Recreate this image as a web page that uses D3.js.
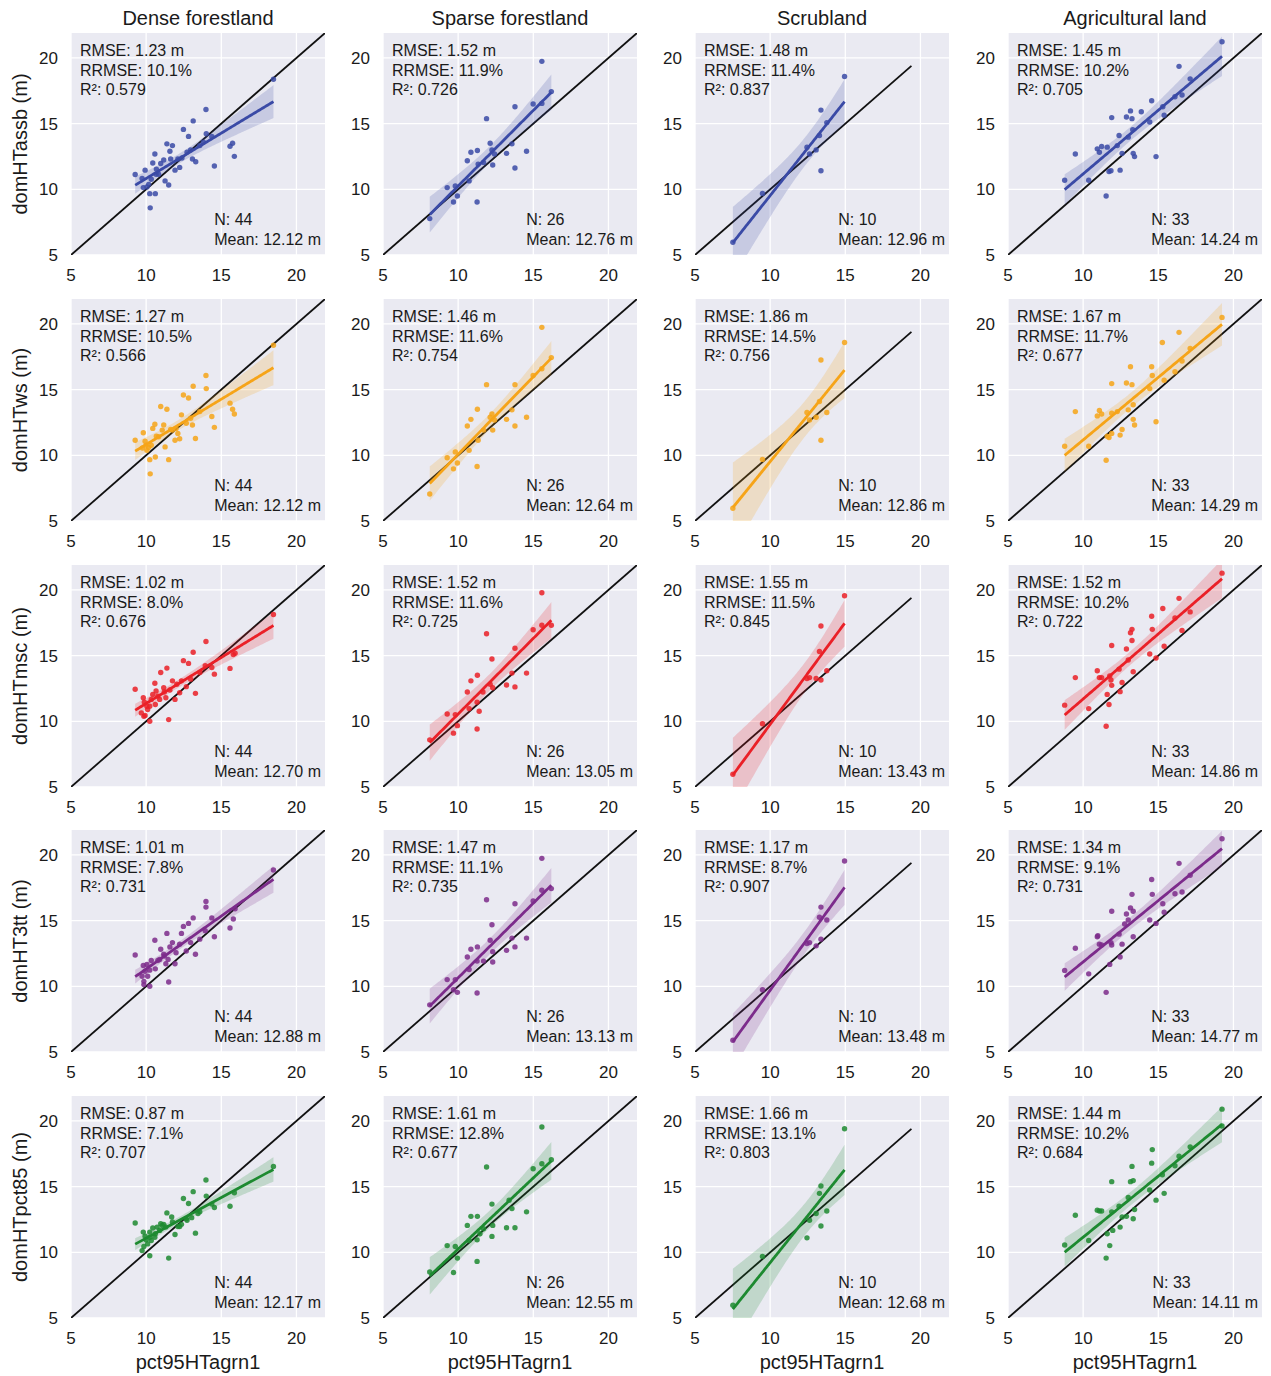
<!DOCTYPE html>
<html lang="en">
<head>
<meta charset="UTF-8">
<title>Dominant height vs pct95HTagrn1</title>
<script src="https://d3js.org/d3.v7.min.js"></script>
<style>
  body { margin: 0; background: #fff; }
  svg text { font-family: "Liberation Sans", Arial, sans-serif; fill: #1a1a1a; }
</style>
</head>
<body>
<div id="chart"></div>
<script>
const landCovers = ["Dense forestland", "Sparse forestland", "Scrubland", "Agricultural land"];
const metrics = ["domHTassb", "domHTws", "domHTmsc", "domHT3tt", "domHTpct85"];
const rowColors = ["#3a4aa6", "#f6a418", "#ea2027", "#7c2b8b", "#1d8a30"];
const xLabel = "pct95HTagrn1";
const tickValues = [5, 10, 15, 20];
const oneToOneMax = [22, 22, 19.4, 22];

const rmse = [
  ["1.23", "1.52", "1.48", "1.45"],
  ["1.27", "1.46", "1.86", "1.67"],
  ["1.02", "1.52", "1.55", "1.52"],
  ["1.01", "1.47", "1.17", "1.34"],
  ["0.87", "1.61", "1.66", "1.44"]
];
const rrmse = [
  ["10.1", "11.9", "11.4", "10.2"],
  ["10.5", "11.6", "14.5", "11.7"],
  ["8.0", "11.6", "11.5", "10.2"],
  ["7.8", "11.1", "8.7", "9.1"],
  ["7.1", "12.8", "13.1", "10.2"]
];
const r2 = [
  ["0.579", "0.726", "0.837", "0.705"],
  ["0.566", "0.754", "0.756", "0.677"],
  ["0.676", "0.725", "0.845", "0.722"],
  ["0.731", "0.735", "0.907", "0.731"],
  ["0.707", "0.677", "0.803", "0.684"]
];
const nObs = [44, 26, 10, 33];
const means = [
  ["12.12", "12.76", "12.96", "14.24"],
  ["12.12", "12.64", "12.86", "14.29"],
  ["12.70", "13.05", "13.43", "14.86"],
  ["12.88", "13.13", "13.48", "14.77"],
  ["12.17", "12.55", "12.68", "14.11"]
];

// [pct95HTagrn1, domHT] pairs
const assbDense = [[9.27,11.13],[9.73,10.82],[9.93,11.46],[9.81,10.13],[10.05,10.18],[10.17,10.38],[10.24,9.67],[10.27,8.59],[10.61,9.67],[10.44,12.0],[10.58,12.69],[10.68,11.54],[10.66,11.15],[10.97,11.97],[11.17,12.23],[11.26,10.64],[11.5,10.33],[11.58,12.9],[11.38,13.46],[11.75,13.33],[11.92,11.46],[12.23,11.67],[12.48,14.56],[12.82,14.03],[12.38,12.38],[13.13,15.21],[13.08,12.31],[13.3,12.1],[13.57,13.33],[13.98,16.08],[14.0,14.23],[14.37,14.03],[14.54,11.77],[15.58,13.28],[15.75,13.51],[15.87,12.51],[18.47,18.38],[10.34,10.77],[10.83,11.15],[11.63,12.31],[12.11,12.31],[12.72,12.82],[12.96,13.0],[13.81,13.59]];
const assbSparse = [[8.11,7.77],[9.27,10.13],[9.69,9.03],[9.81,10.26],[9.95,9.49],[10.61,12.18],[10.85,12.82],[10.73,10.64],[11.28,12.95],[11.26,9.03],[11.33,11.92],[11.89,15.38],[12.13,13.51],[12.25,13.0],[12.3,11.85],[12.42,12.69],[11.69,12.05],[13.22,12.74],[13.58,13.46],[13.78,16.28],[13.78,11.62],[14.55,12.9],[14.99,16.49],[15.57,19.74],[15.57,16.54],[16.2,17.44]];
const assbScrub = [[7.52,5.97],[9.49,9.69],[12.45,13.21],[12.62,12.69],[13.06,13.0],[13.28,14.1],[13.38,16.03],[13.38,11.41],[13.77,15.08],[14.95,18.59]];
const assbAgri = [[8.77,10.69],[9.48,12.69],[10.37,10.69],[10.94,13.08],[11.08,12.82],[11.23,13.26],[11.53,9.49],[11.6,13.21],[11.72,11.36],[11.85,11.41],[11.9,15.46],[12.39,14.1],[12.46,11.46],[12.59,12.74],[12.88,15.51],[13.15,15.97],[13.25,15.38],[13.3,14.54],[13.33,12.74],[13.42,12.49],[13.0,13.97],[14.43,15.13],[14.56,16.74],[14.85,12.49],[15.39,15.64],[15.3,16.28],[16.11,17.05],[16.38,19.36],[16.58,17.18],[17.12,18.41],[19.24,21.23],[12.27,13.33],[13.87,15.9]];

const wsDense = [[9.27,11.15],[9.81,11.72],[9.93,11.08],[9.76,10.56],[10.05,10.38],[10.17,10.59],[10.24,9.67],[10.27,8.59],[10.61,9.87],[10.44,12.05],[10.58,12.36],[10.68,11.46],[10.97,13.72],[11.17,12.31],[11.26,10.64],[11.5,9.67],[11.38,13.51],[11.63,11.97],[11.92,11.15],[12.23,11.26],[12.35,13.08],[12.48,14.59],[12.82,14.36],[12.67,12.44],[13.13,15.26],[13.08,12.31],[13.28,11.28],[13.98,16.08],[14.0,15.08],[14.37,12.95],[14.54,12.13],[15.58,13.97],[15.75,13.51],[15.87,13.15],[18.47,18.38],[13.57,13.33],[11.99,12.05],[10.34,10.77],[10.83,11.41],[11.75,11.92],[12.96,12.82],[12.11,11.67],[11.07,11.92],[10.0,10.77]];
const wsSparse = [[8.11,7.05],[9.27,9.82],[9.69,8.97],[9.81,10.26],[9.95,9.41],[10.61,12.23],[10.85,12.74],[10.73,10.38],[11.28,13.51],[11.26,9.15],[11.33,11.15],[11.89,15.38],[12.13,12.9],[12.25,13.15],[12.3,11.92],[12.42,12.69],[11.69,11.92],[13.22,12.74],[13.58,13.46],[13.78,15.38],[13.78,12.23],[14.55,12.9],[14.99,16.08],[15.57,19.74],[15.57,16.59],[16.2,17.44]];
const wsScrub = [[7.52,5.97],[9.49,9.69],[12.45,13.26],[12.62,12.69],[13.06,12.9],[13.28,14.1],[13.38,17.26],[13.38,11.15],[13.77,13.26],[14.95,18.59]];
const wsAgri = [[8.77,10.69],[9.48,13.33],[10.37,10.69],[10.94,13.0],[11.08,13.41],[11.23,13.15],[11.53,9.62],[11.6,11.46],[11.72,11.36],[11.9,11.67],[11.9,15.46],[11.9,13.21],[12.46,11.54],[12.59,11.97],[12.88,15.51],[13.15,16.74],[13.25,15.38],[13.0,13.46],[13.33,12.74],[13.42,12.31],[13.33,13.85],[14.43,15.08],[14.56,16.74],[14.85,12.56],[15.39,15.72],[14.6,16.08],[16.11,16.36],[16.38,19.36],[16.58,17.18],[17.12,18.13],[15.27,18.59],[12.27,13.33],[19.24,20.5]];

const mscDense = [[9.27,12.44],[9.81,11.79],[9.88,11.46],[9.68,10.64],[9.93,10.44],[10.1,10.9],[10.24,10.0],[9.85,10.38],[10.24,11.15],[10.44,12.05],[10.58,12.9],[10.61,11.28],[10.97,13.72],[11.17,12.56],[11.31,11.79],[11.5,10.13],[11.38,14.05],[11.21,12.23],[11.75,13.08],[11.92,11.67],[12.23,12.18],[12.48,14.62],[12.82,14.41],[12.67,12.64],[13.13,15.26],[12.96,13.21],[13.28,12.13],[13.98,16.08],[14.37,14.1],[14.54,13.59],[15.58,14.03],[15.8,15.08],[15.92,15.18],[18.47,18.13],[13.57,13.72],[12.35,13.08],[10.34,11.67],[10.78,11.92],[11.58,12.38],[12.04,12.82],[10.9,11.67],[10.05,11.15],[13.93,14.23],[10.66,12.31]];
const mscSparse = [[8.11,8.59],[9.27,10.56],[9.69,9.1],[9.81,10.51],[9.95,9.67],[10.61,12.23],[10.85,13.08],[10.73,10.97],[11.28,13.51],[11.26,9.41],[11.26,11.46],[11.89,16.67],[12.25,14.74],[12.13,12.82],[12.3,12.56],[11.65,12.23],[13.22,12.77],[13.58,13.67],[13.78,15.56],[13.78,12.62],[14.55,13.67],[14.99,16.97],[15.57,19.79],[15.57,17.31],[16.2,17.31],[11.4,10.77]];
const mscScrub = [[7.52,5.97],[9.49,9.82],[12.45,13.26],[12.62,13.33],[13.06,13.26],[13.28,15.31],[13.38,17.26],[13.38,13.15],[13.77,13.85],[14.95,19.56]];
const mscAgri = [[8.77,11.23],[9.48,13.33],[10.37,10.97],[10.94,13.85],[11.08,13.33],[11.23,13.33],[11.53,9.62],[11.6,12.05],[11.72,11.28],[11.9,15.77],[11.9,12.74],[11.85,13.15],[12.46,12.26],[12.59,12.95],[12.88,15.51],[13.15,16.74],[13.25,17.0],[13.25,16.15],[13.0,14.67],[13.33,13.77],[12.39,13.97],[14.43,15.13],[14.56,18.0],[14.6,17.0],[14.85,14.82],[15.39,15.72],[15.3,18.59],[16.11,17.87],[16.38,19.36],[16.58,16.92],[17.12,18.33],[19.24,21.28],[11.77,13.46]];

const tt3Dense = [[9.27,12.38],[9.81,11.59],[9.93,11.15],[9.73,10.77],[9.85,10.38],[10.1,10.77],[10.24,10.0],[9.85,10.13],[10.24,11.23],[10.34,11.97],[10.58,13.51],[10.61,11.33],[10.97,12.82],[11.17,12.44],[11.31,11.72],[11.5,10.33],[11.38,14.03],[11.46,12.05],[11.75,13.33],[11.92,11.72],[12.35,14.03],[12.48,14.56],[12.82,14.79],[12.67,12.69],[13.13,15.21],[12.96,13.33],[13.28,12.44],[13.98,16.46],[13.98,16.03],[14.37,15.21],[14.54,13.77],[15.58,14.44],[15.8,15.13],[15.92,15.9],[18.47,18.85],[13.57,13.59],[12.23,13.21],[10.78,11.97],[11.58,13.0],[11.99,12.56],[10.9,12.05],[10.05,11.67],[13.93,14.23],[11.21,12.31]];
const tt3Sparse = [[8.11,8.59],[9.27,10.51],[9.69,9.74],[9.81,10.51],[9.95,9.54],[10.61,12.23],[10.85,12.82],[10.73,11.28],[11.28,13.0],[11.26,9.49],[11.26,11.92],[11.89,16.59],[12.25,14.69],[12.13,13.51],[12.3,11.85],[11.69,11.92],[12.3,12.64],[13.22,12.74],[13.58,13.67],[13.78,16.28],[13.78,13.0],[14.55,13.67],[14.99,16.49],[15.57,19.74],[15.57,17.31],[16.2,17.44]];
const tt3Scrub = [[7.52,5.9],[9.49,9.74],[12.45,13.26],[12.62,13.33],[13.06,13.08],[13.28,15.26],[13.38,16.03],[13.38,13.59],[13.77,15.05],[14.95,19.54]];
const tt3Agri = [[8.77,11.21],[9.48,12.9],[10.37,10.95],[10.94,13.77],[11.08,13.21],[11.23,13.15],[11.53,9.54],[11.77,11.67],[11.9,15.72],[11.9,13.15],[11.85,13.33],[12.46,12.23],[12.59,13.21],[12.88,15.51],[13.15,15.97],[13.25,17.0],[13.33,15.72],[13.0,15.05],[13.33,13.77],[10.98,13.85],[12.39,13.97],[14.43,15.05],[14.56,18.13],[14.6,17.0],[14.85,14.79],[15.3,16.28],[15.39,15.64],[16.11,17.05],[16.38,19.36],[16.58,17.18],[17.12,18.46],[19.24,21.23],[12.76,14.74]];

const pct85Dense = [[9.27,12.23],[9.81,11.54],[9.93,11.23],[9.73,10.13],[9.85,10.44],[10.1,10.64],[10.24,9.74],[10.0,10.95],[10.24,11.54],[10.44,11.85],[10.58,11.15],[10.61,11.41],[10.97,12.18],[11.17,12.13],[11.31,11.92],[11.5,9.56],[11.38,13.0],[11.7,12.69],[11.92,11.36],[12.23,11.97],[12.35,12.13],[12.48,14.1],[12.82,13.72],[12.67,12.56],[13.13,14.62],[13.03,12.64],[13.28,11.46],[13.98,15.51],[14.0,14.28],[14.37,13.67],[14.54,13.41],[15.58,13.51],[15.87,14.54],[18.47,16.54],[13.57,13.08],[12.11,11.97],[10.73,11.92],[11.07,12.05],[11.75,12.31],[12.72,12.44],[10.9,11.67],[10.34,10.9],[13.45,12.95],[10.24,11.15]];
const pct85Sparse = [[8.11,8.51],[9.27,10.51],[9.69,8.46],[9.81,10.44],[9.95,9.56],[10.61,12.05],[10.85,12.74],[10.73,10.9],[11.28,12.74],[11.26,9.31],[11.26,10.95],[11.89,16.49],[12.25,13.67],[12.3,12.05],[12.25,11.21],[13.22,11.87],[13.58,13.33],[13.78,11.87],[14.55,13.08],[14.99,16.36],[15.57,19.54],[15.57,16.74],[16.2,17.05],[11.69,11.79],[11.45,11.41],[13.39,13.97]];
const pct85Scrub = [[7.52,5.97],[9.49,9.69],[12.45,11.1],[12.62,12.44],[13.06,12.95],[13.28,14.49],[13.38,15.05],[13.38,12.0],[13.77,13.15],[14.95,19.41]];
const pct85Agri = [[8.77,10.56],[9.48,12.82],[10.37,10.9],[10.94,13.21],[11.08,13.15],[11.23,13.15],[11.53,9.56],[11.6,11.41],[11.77,10.51],[11.9,15.38],[11.9,13.08],[11.97,11.67],[12.46,11.92],[12.59,12.69],[12.39,13.51],[12.88,12.74],[13.0,14.18],[13.15,15.38],[13.25,16.54],[13.33,15.46],[13.33,12.56],[13.42,13.26],[14.43,14.74],[14.56,16.79],[14.6,17.82],[14.85,13.97],[15.27,15.9],[15.39,14.49],[16.11,16.59],[16.38,17.31],[17.12,18.03],[19.24,20.9],[19.24,19.62]];

const panelData = [
  [assbDense, assbSparse, assbScrub, assbAgri],
  [wsDense, wsSparse, wsScrub, wsAgri],
  [mscDense, mscSparse, mscScrub, mscAgri],
  [tt3Dense, tt3Sparse, tt3Scrub, tt3Agri],
  [pct85Dense, pct85Sparse, pct85Scrub, pct85Agri]
];

// layout
const width = 1271, height = 1376;
const plotW = 254, plotH = 222;
const colLeft = [71, 383, 695, 1008];
const rowTop = [33, 299, 565, 830, 1096];

const svg = d3.select("#chart").append("svg")
  .attr("width", width).attr("height", height);

svg.append("defs").append("clipPath").attr("id", "plot-clip")
  .append("rect").attr("width", plotW).attr("height", plotH);

const x = d3.scaleLinear().domain([5, 21.9]).range([0, plotW]);
const y = d3.scaleLinear().domain([5, 21.9]).range([plotH, 0]);

// two-sided 95% t critical value (Cornish-Fisher expansion)
function tCrit(df) {
  const z = 1.959964, z3 = z ** 3, z5 = z ** 5, z7 = z ** 7;
  return z + (z3 + z) / (4 * df) + (5 * z5 + 16 * z3 + 3 * z) / (96 * df * df)
    + (3 * z7 + 19 * z5 + 17 * z3 - 15 * z) / (384 * df ** 3);
}

function fit(pts) {
  const n = pts.length;
  const mx = d3.mean(pts, d => d[0]), my = d3.mean(pts, d => d[1]);
  const sxx = d3.sum(pts, d => (d[0] - mx) ** 2);
  const sxy = d3.sum(pts, d => (d[0] - mx) * (d[1] - my));
  const b = sxy / sxx, a = my - b * mx;
  const s = Math.sqrt(d3.sum(pts, d => (d[1] - a - b * d[0]) ** 2) / (n - 2));
  const t = tCrit(n - 2);
  const [x0, x1] = d3.extent(pts, d => d[0]);
  const band = d3.range(0, 101).map(i => {
    const xv = x0 + (x1 - x0) * i / 100;
    const yh = a + b * xv;
    const h = t * s * Math.sqrt(1 / n + (xv - mx) ** 2 / sxx);
    return { x: xv, y: yh, lo: yh - h, hi: yh + h };
  });
  return band;
}

const area = d3.area().x(d => x(d.x)).y0(d => y(d.lo)).y1(d => y(d.hi));
const line = d3.line().x(d => x(d.x)).y(d => y(d.y));

// column titles
landCovers.forEach((name, c) => {
  svg.append("text")
    .attr("x", colLeft[c] + plotW / 2).attr("y", 25)
    .attr("text-anchor", "middle").style("font-size", "20px")
    .text(name);
});

metrics.forEach((metric, r) => {
  // y label
  svg.append("text")
    .attr("transform", `translate(27,${rowTop[r] + plotH / 2}) rotate(-90)`)
    .attr("text-anchor", "middle").style("font-size", "20px")
    .text(`${metric} (m)`);

  landCovers.forEach((lc, c) => {
    const pts = panelData[r][c];
    const color = rowColors[r];
    const g = svg.append("g").attr("transform", `translate(${colLeft[c]},${rowTop[r]})`);

    g.append("rect").attr("width", plotW).attr("height", plotH).attr("fill", "#eaeaf2");

    g.selectAll(".gx").data(tickValues).join("line")
      .attr("x1", d => x(d)).attr("x2", d => x(d))
      .attr("y1", 0).attr("y2", plotH)
      .attr("stroke", "#fff").attr("stroke-width", 1.3);
    g.selectAll(".gy").data(tickValues).join("line")
      .attr("y1", d => y(d)).attr("y2", d => y(d))
      .attr("x1", 0).attr("x2", plotW)
      .attr("stroke", "#fff").attr("stroke-width", 1.3);

    // tick labels
    g.selectAll(".tx").data(tickValues).join("text")
      .attr("x", d => x(d)).attr("y", plotH + 26)
      .attr("text-anchor", "middle").style("font-size", "17px")
      .text(d => d);
    g.selectAll(".ty").data(tickValues).join("text")
      .attr("x", -13).attr("y", d => y(d)).attr("dy", "0.36em")
      .attr("text-anchor", "end").style("font-size", "17px")
      .text(d => d);

    const inner = g.append("g").attr("clip-path", "url(#plot-clip)");

    // 1:1 line
    inner.append("line")
      .attr("x1", x(5)).attr("y1", y(5))
      .attr("x2", x(oneToOneMax[c])).attr("y2", y(oneToOneMax[c]))
      .attr("stroke", "#111").attr("stroke-width", 1.8);

    const band = fit(pts);
    inner.append("path").datum(band).attr("d", area)
      .attr("fill", color).attr("fill-opacity", 0.2);

    inner.selectAll("circle").data(pts).join("circle")
      .attr("cx", d => x(d[0])).attr("cy", d => y(d[1])).attr("r", 2.7)
      .attr("fill", color).attr("fill-opacity", 0.85);

    inner.append("path").datum(band).attr("d", line)
      .attr("fill", "none").attr("stroke", color).attr("stroke-width", 2.8);

    // annotations
    const tl = [`RMSE: ${rmse[r][c]} m`, `RRMSE: ${rrmse[r][c]}%`, `R²: ${r2[r][c]}`];
    tl.forEach((t, i) => {
      g.append("text").attr("x", 9).attr("y", 23 + i * 19.5)
        .style("font-size", "16px").text(t);
    });
    const meanText = g.append("text")
      .attr("x", plotW - 4).attr("y", plotH - 10.5)
      .attr("text-anchor", "end").style("font-size", "16px")
      .text(`Mean: ${means[r][c]} m`);
    const bx = meanText.node().getBBox().x;
    g.append("text").attr("x", bx).attr("y", plotH - 30)
      .style("font-size", "16px").text(`N: ${nObs[c]}`);

    if (r === metrics.length - 1) {
      g.append("text")
        .attr("x", plotW / 2).attr("y", plotH + 51)
        .attr("text-anchor", "middle").style("font-size", "20px")
        .text(xLabel);
    }
  });
});
</script>
</body>
</html>
